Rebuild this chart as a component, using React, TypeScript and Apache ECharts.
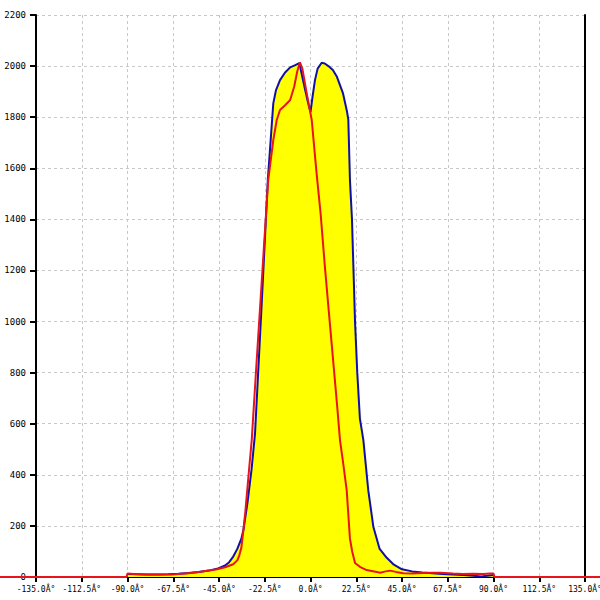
import React, { useEffect, useRef } from "react";
import * as echarts from "echarts";

// Angle (degrees) and values for the measured (blue/yellow) profile
const blueAngles = [
  -90, -85, -80, -75, -70, -65, -60, -55, -50, -46, -42, -40, -38, -36, -34, -33, -31, -29, -27.3,
  -26, -24, -22, -21, -19.5, -18.3, -17, -15, -12.5, -10, -7.5, -5.5, -3, -1, 0, 1, 2.2, 3.5, 5.5,
  7, 8.8, 11, 13, 16, 18, 18.6, 19.4, 20.4, 21.9, 23, 24.3, 26, 28.4, 30.9, 34, 37.5, 41, 45, 50, 55,
  60, 65, 70, 75, 80, 84, 87, 90,
];
const blueValues = [
  12, 11, 10, 10, 11, 13, 16, 20, 25, 32, 45, 58, 80, 110, 150, 184, 290, 420, 560,
  760, 1070, 1390, 1554, 1720, 1854, 1905, 1945, 1975, 1995, 2004, 2012, 1920, 1850, 1820, 1880, 1945, 1990, 2013,
  2010, 2000, 1985, 1958, 1893, 1820, 1790, 1554, 1400, 1000, 800, 620, 536, 340, 197, 110, 75, 48, 30, 22, 18,
  15, 12, 10, 8, 5, 2, 5, 8,
];

// Angle (degrees) and values for the reference (red) profile
const redAngles = [
  -180, -90.5, -90, -87, -82, -75, -68, -60, -54, -50, -46, -42, -38, -36, -35, -34, -33, -32, -31,
  -30, -28.9, -27, -25, -23, -20.8, -18.3, -16.6, -15, -12.5, -10, -8, -6.5, -5.2, -4, -2, 0.6, 3, 5,
  7, 9, 11, 13, 14.5, 16, 17.8, 19.4, 20.5, 21.9, 24.3, 27.6, 32.6, 34.2, 37, 39.1, 42, 45.6, 50, 55,
  60, 64, 70, 75, 80, 85, 88.3, 90, 90.5, 180,
];
const redValues = [
  0, 0, 14, 12, 10, 10, 10, 15, 21, 25, 30, 38, 50, 65, 85, 115, 184, 260, 350,
  440, 536, 780, 1030, 1280, 1554, 1710, 1789, 1828, 1847, 1867, 1920, 1980, 2015, 1990, 1900, 1789, 1580, 1420,
  1222, 1040, 860, 680, 536, 450, 340, 150, 100, 55, 40, 27, 20, 17, 22, 25, 20, 15, 14, 16,
  17, 17, 14, 12, 13, 12, 14, 14, 0, 0,
];

const xMin = -135;
const xMax = 135;
const xStep = 22.5;
const yMin = 0;
const yMax = 2200;
const yStep = 200;

const W = 600;
const H = 600;
const gridLeft = 36;
const gridRight = 15;
const gridTop = 15;
const gridBottom = 23;

export default function App() {
  const ref = useRef<HTMLDivElement>(null);
  useEffect(() => {
    if (!ref.current) return;
    const chart = echarts.init(ref.current, undefined, { renderer: "svg" });
    const font = "DejaVu Sans Mono";
    // full-width overlay axis mapped to the same degree scale, so the red
    // baseline can run past the plot edges as in the reference
    const degPerPx = (xMax - xMin) / (W - gridLeft - gridRight);
    const fullMin = xMin - gridLeft * degPerPx;
    const fullMax = xMax + gridRight * degPerPx;
    const n = redAngles.length;
    const redTails = [
      [redAngles[0], redValues[0]],
      [redAngles[1], redValues[1]],
      ["-", "-"],
      [redAngles[n - 2], redValues[n - 2]],
      [redAngles[n - 1], redValues[n - 1]],
    ];
    const split = { show: true, lineStyle: { color: "#c8c8c8", type: [3, 3], width: 1 } };
    chart.setOption({
      animation: false,
      backgroundColor: "#ffffff",
      grid: [
        {
          left: gridLeft,
          right: gridRight,
          top: gridTop,
          bottom: gridBottom,
          containLabel: false,
          outerBoundsMode: "none",
        },
        {
          left: 0,
          right: 0,
          top: gridTop,
          bottom: gridBottom,
          containLabel: false,
          outerBoundsMode: "none",
        },
      ],
      xAxis: [
        {
          type: "value",
          gridIndex: 0,
          min: xMin,
          max: xMax,
          interval: xStep,
          axisLine: { show: true, onZero: false, lineStyle: { color: "#000", width: 2 } },
          axisTick: { show: true, length: 5, lineStyle: { color: "#000", width: 2 } },
          axisLabel: {
            margin: 8,
            fontFamily: font,
            fontSize: 8,
            color: "#000",
            formatter: (v: number) => (Math.abs(v) < 1e-9 ? 0 : v).toFixed(1) + "Â°",
          },
          splitLine: split,
        },
        {
          type: "value",
          gridIndex: 1,
          min: fullMin,
          max: fullMax,
          show: false,
          splitLine: { show: false },
        },
      ],
      yAxis: [
        {
          type: "value",
          gridIndex: 0,
          min: yMin,
          max: yMax,
          interval: yStep,
          axisLine: { show: true, onZero: false, lineStyle: { color: "#000", width: 2 } },
          axisTick: { show: true, length: 6, lineStyle: { color: "#000", width: 2 } },
          axisLabel: {
            margin: 10,
            fontFamily: font,
            fontSize: 9,
            color: "#000",
            formatter: (v: number) => String(v),
          },
          splitLine: split,
        },
        {
          type: "value",
          gridIndex: 0,
          position: "right",
          min: yMin,
          max: yMax,
          interval: yStep,
          axisLine: { show: true, onZero: false, lineStyle: { color: "#000", width: 2 } },
          axisTick: { show: false },
          axisLabel: { show: false },
          splitLine: { show: false },
        },
        {
          type: "value",
          gridIndex: 1,
          min: yMin,
          max: yMax,
          show: false,
          splitLine: { show: false },
        },
      ],
      series: [
        {
          type: "line",
          xAxisIndex: 0,
          yAxisIndex: 0,
          data: blueAngles.map((a, i) => [a, blueValues[i]]),
          showSymbol: false,
          symbol: "none",
          lineStyle: { color: "#1010a8", width: 2 },
          areaStyle: { color: "#ffff00", opacity: 1 },
          z: 2,
        },
        {
          type: "line",
          xAxisIndex: 0,
          yAxisIndex: 0,
          data: redAngles.map((a, i) => [a, redValues[i]]),
          showSymbol: false,
          symbol: "none",
          clip: false,
          lineStyle: { color: "#e8141c", width: 2 },
          z: 3,
        },
        {
          type: "line",
          xAxisIndex: 1,
          yAxisIndex: 2,
          data: redTails,
          showSymbol: false,
          symbol: "none",
          connectNulls: false,
          clip: false,
          lineStyle: { color: "#e8141c", width: 2 },
          z: 3,
        },
      ],
    });
    return () => chart.dispose();
  }, []);
  return (
    <div
      ref={ref}
      style={{ position: "fixed", left: 0, top: 0, width: W, height: H }}
    />
  );
}
